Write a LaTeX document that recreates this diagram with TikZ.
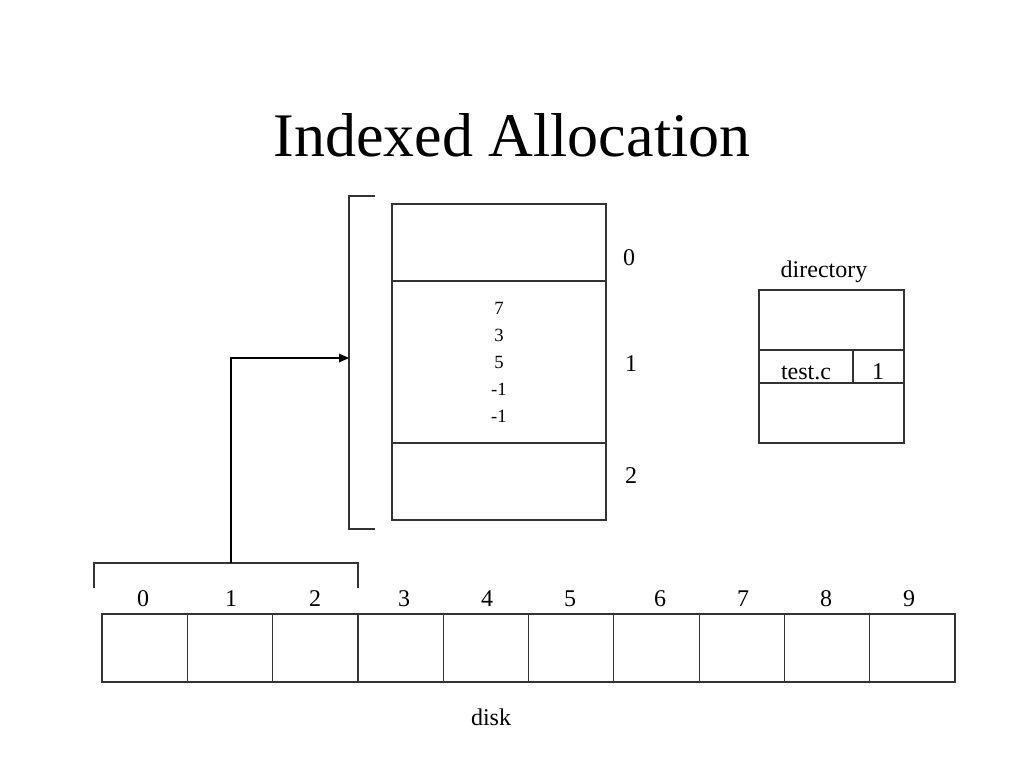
\documentclass[tikz,border=0pt]{standalone}
\usepackage{fontspec}
\setmainfont{Liberation Serif}
\usetikzlibrary{arrows.meta}
\begin{document}
\begin{tikzpicture}[x=0.75pt,y=-0.75pt,
  line/.style={draw=black!80, line width=0.9pt},
  cellbox/.style={line, rectangle, inner sep=0pt, outer sep=0pt, anchor=north west},
  lbl/.style={inner sep=0pt, anchor=base, font=\fontsize{18}{20}\selectfont},
  arr/.style={draw=black, line width=0.9pt, -{Triangle[length=7.5pt,width=6.5pt]}}
]
\useasboundingbox (0,0) rectangle (1024,768);
% title
\node[inner sep=0pt, anchor=base, font=\fontsize{46.5}{50}\selectfont] (title) at (512,156) {Indexed Allocation};

% index block
\node[cellbox, minimum width=214*0.75pt, minimum height=77*0.75pt] (blk0) at (392,204) {};
\node[cellbox, minimum width=214*0.75pt, minimum height=162*0.75pt] (blk1) at (392,281) {};
\node[cellbox, minimum width=214*0.75pt, minimum height=77*0.75pt] (blk2) at (392,443) {};
\node[inner sep=0pt, align=center, font=\fontsize{14}{20.25}\selectfont] (idx) at (499,362) {7\\3\\5\\-1\\-1};
\node[lbl] (l0) at (629,265) {0};
\node[lbl] (l1) at (631,371) {1};
\node[lbl] (l2) at (631,483) {2};

% bracket around the block
\coordinate (bt) at (375,196);
\coordinate (bb) at (375,529);
\coordinate (bmid) at (349,358);
\draw[line] (bt) -- (349,196) -- (349,529) -- (bb);

% directory
\node[lbl] (dirlbl) at (824,277) {directory};
\node[cellbox, minimum width=145*0.75pt, minimum height=60*0.75pt] (d0) at (759,290) {};
\node[cellbox, minimum width=94*0.75pt, minimum height=33*0.75pt] (dname) at (759,350) {};
\node[cellbox, minimum width=51*0.75pt, minimum height=33*0.75pt] (dblk) at (853,350) {};
\node[cellbox, minimum width=145*0.75pt, minimum height=60*0.75pt] (d2) at (759,383) {};
\node[lbl] (testc) at (dname.center |- 0,379) {test.c};
\node[lbl] (one) at (878,379) {1};

% disk
\foreach \i/\lx in {0/143,1/231,2/315,3/404,4/487,5/570,6/660,7/743,8/826,9/909}{
  \node[cellbox, minimum width=85.3*0.75pt, minimum height=68*0.75pt] (c\i) at ({102+85.3*\i},614) {};
  \node[lbl] (n\i) at (\lx,606) {\i};
}
\node[lbl] (disk) at (491,725) {disk};

% lower bracket over blocks 0-2
\coordinate (lb) at (231,563);
\draw[line] (94,588) -- (94,563) -- (358,563) -- (358,588);

% arrow
\draw[arr] (lb) |- (bmid);
\end{tikzpicture}
\end{document}
